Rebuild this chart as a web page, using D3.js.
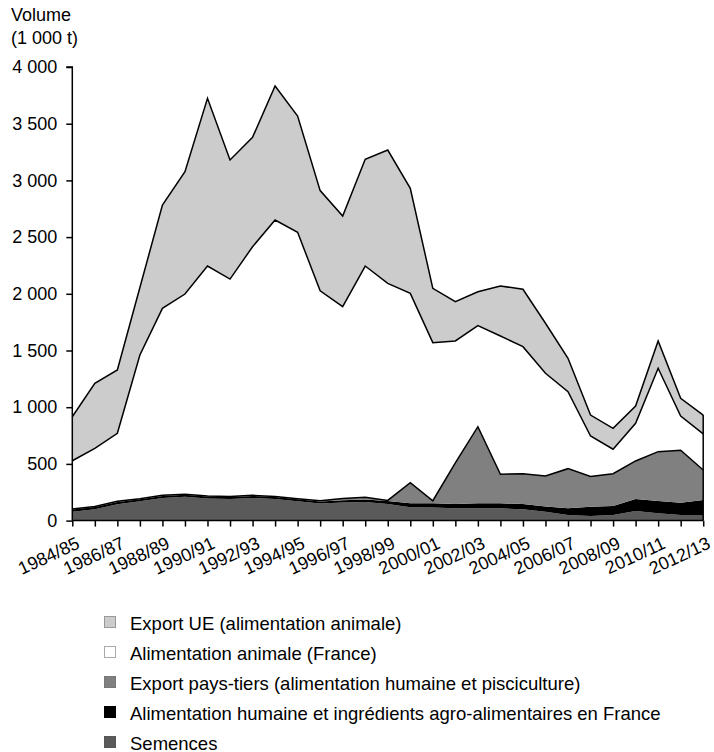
<!DOCTYPE html>
<html>
<head>
<meta charset="utf-8">
<script src="https://cdn.jsdelivr.net/npm/d3@7"></script>
<style>
  html, body { margin: 0; padding: 0; background: #fff; }
  svg { display: block; font-family: "Liberation Sans", Arial, Helvetica, sans-serif; }
</style>
</head>
<body>
<svg id="chart" width="714" height="752"></svg>
<script>
const seasons = ["1984/85","1985/86","1986/87","1987/88","1988/89","1989/90","1990/91","1991/92","1992/93","1993/94","1994/95","1995/96","1996/97","1997/98","1998/99","1999/00","2000/01","2001/02","2002/03","2003/04","2004/05","2005/06","2006/07","2007/08","2008/09","2009/10","2010/11","2011/12","2012/13"];
const semences    = [78,100,145,170,200,210,195,190,200,190,170,150,160,165,146,117,115,108,108,108,99,78,49,40,49,85,64,49,49];
const alimHumaine = [20,20,20,18,18,18,18,18,18,18,18,18,20,20,26,35,37,38,44,44,47,47,59,83,80,105,109,109,133];
const exportPT    = [5,5,5,5,5,5,5,5,5,5,5,8,15,20,6,182,23,363,676,256,268,268,350,267,285,336,435,462,264];
const alimAnimale = [425,512,600,1267,1649,1765,2027,1917,2192,2438,2349,1851,1691,2040,1914,1670,1394,1075,891,1220,1120,906,679,356,215,332,735,302,318];
const exportUE    = [388,573,558,595,911,1079,1479,1050,965,1181,1026,883,800,941,1176,926,479,346,299,441,506,441,294,185,185,152,241,156,167];
const yTicks = [0,500,1000,1500,2000,2500,3000,3500,4000];
const seriesNames = ["Export UE (alimentation animale)","Alimentation animale (France)","Export pays-tiers (alimentation humaine et pisciculture)","Alimentation humaine et ingrédients agro-alimentaires en France","Semences"];

const keys = ["semences","alimHumaine","exportPT","alimAnimale","exportUE"];
const table = seasons.map((s,i)=>({season:s, semences:semences[i], alimHumaine:alimHumaine[i], exportPT:exportPT[i], alimAnimale:alimAnimale[i], exportUE:exportUE[i]}));
const fills = {semences:"#5a5a5a", alimHumaine:"#000000", exportPT:"#808080", alimAnimale:"#ffffff", exportUE:"#cccccc"};
const stroked = {semences:false, alimHumaine:false, exportPT:true, alimAnimale:true, exportUE:true};

const svg = d3.select("#chart");
const mLeft = 72.3, mRight = 703.2, mTop = 67, mBottom = 520.6;

const x = d3.scalePoint().domain(seasons).range([mLeft, mRight]);
const y = d3.scaleLinear().domain([0,4000]).range([mBottom, mTop]);

const layers = d3.stack().keys(keys)(table);

const area = d3.area().x(d=>x(d.data.season)).y0(d=>y(d[0])).y1(d=>y(d[1]));
const topLine = d3.line().x(d=>x(d.data.season)).y(d=>y(d[1]));

svg.append("g").selectAll("path.area").data(layers).join("path")
  .attr("class","area")
  .attr("d", area)
  .attr("fill", d=>fills[d.key])
  .attr("stroke", "none");

svg.append("g").selectAll("path.line").data(layers.filter(l=>stroked[l.key])).join("path")
  .attr("class","line")
  .attr("d", topLine)
  .attr("fill","none")
  .attr("stroke","#000")
  .attr("stroke-width",1.5)
  .attr("stroke-linejoin","miter");

// right edge
const lastTotal = layers[layers.length-1][seasons.length-1][1];
svg.append("line")
  .attr("x1", x(seasons[seasons.length-1])).attr("x2", x(seasons[seasons.length-1]))
  .attr("y1", y(0)).attr("y2", y(lastTotal))
  .attr("stroke","#000").attr("stroke-width",1.5);

// y axis
const yAxis = d3.axisLeft(y).tickValues(yTicks).tickSize(6).tickPadding(9)
  .tickFormat(v => d3.format(",")(v).replace(/,/g, " "));
const gy = svg.append("g").attr("transform", `translate(${mLeft},0)`).call(yAxis);
gy.select(".domain").attr("stroke","#000").attr("stroke-width",1.5).attr("d", `M-6,${mTop}H0V${mBottom}`);
gy.selectAll(".tick line").attr("stroke","#000").attr("stroke-width",1.5);
gy.selectAll(".tick text").attr("font-size",18).attr("fill","#000").attr("font-family","'Liberation Sans', Arial, sans-serif");

// x axis
const xAxis = d3.axisBottom(x).tickSize(6).tickFormat((d,i)=> i%2===0 ? d : "");
const gx = svg.append("g").attr("transform", `translate(0,${mBottom})`).call(xAxis);
gx.select(".domain").attr("stroke","#000").attr("stroke-width",1.5).attr("d", `M${mLeft},0H${mRight}`);
gx.selectAll(".tick line").attr("stroke","#000").attr("stroke-width",1.5);
gx.selectAll(".tick text")
  .attr("font-size",18).attr("fill","#000").attr("font-family","'Liberation Sans', Arial, sans-serif")
  .attr("text-anchor","end")
  .attr("dy",null).attr("y",null)
  .attr("transform","translate(8,27) rotate(-25)");

// axis title
svg.append("text").attr("x",11).attr("y",21).attr("font-size",18).text("Volume");
svg.append("text").attr("x",11).attr("y",44).attr("font-size",18).text("(1 000 t)");

// legend
const legendFills = ["#cccccc","#ffffff","#808080","#000000","#5a5a5a"];
const legendStroke = ["#999","#aaa","#777","#000","#555"];
const lg = svg.append("g");
seriesNames.forEach((name,i)=>{
  const cy = 623 + i*30;
  lg.append("rect").attr("x",104.5).attr("y",cy-6.5).attr("width",11).attr("height",11)
    .attr("fill",legendFills[i]).attr("stroke",legendStroke[i]).attr("stroke-width",1);
  lg.append("text").attr("x",130).attr("y",cy+6.5).attr("font-size",18.5).attr("fill","#000").text(name);
});
</script>
</body>
</html>
